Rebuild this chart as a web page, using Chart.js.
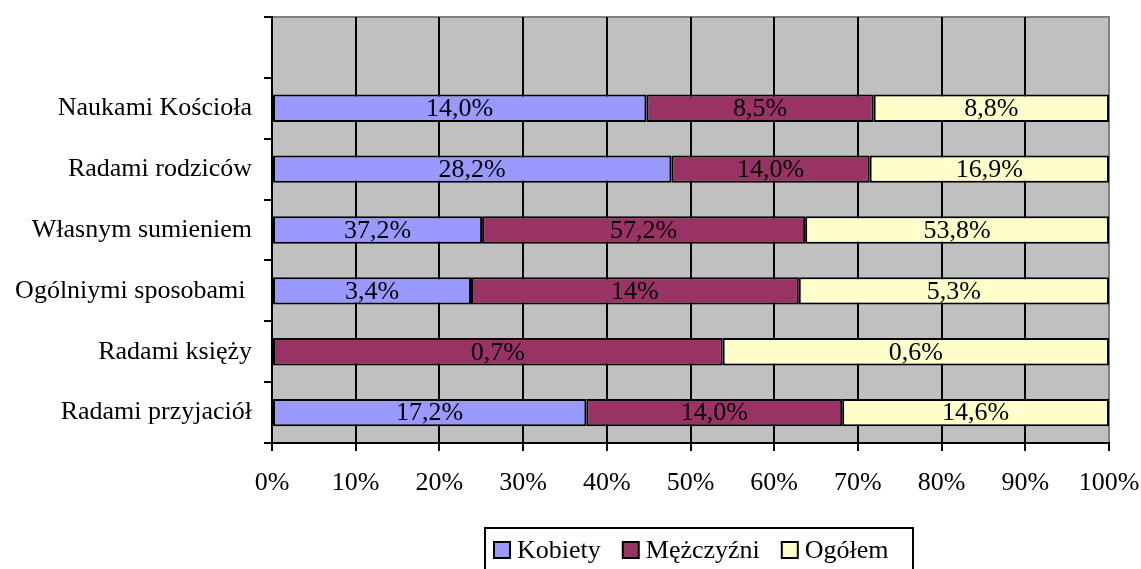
<!DOCTYPE html>
<html>
<head>
<meta charset="utf-8">
<script src="https://cdn.jsdelivr.net/npm/chart.js@4.4.1/dist/chart.umd.min.js"></script>
<style>
  html, body { margin: 0; padding: 0; background: #fff; }
  #wrap { width: 1141px; height: 569px; }
</style>
</head>
<body>
<div id="wrap"><canvas id="chart" width="1141" height="569"></canvas></div>
<script>
// Catégories (de haut en bas), la première ligne est vide
const categories = ['', 'Naukami Kościoła', 'Radami rodziców', 'Własnym sumieniem', 'Ogólniymi sposobami ', 'Radami księży', 'Radami przyjaciół'];

// Valeurs brutes par série (le graphique est empilé à 100%)
const kobiety = [null, 14.0, 28.2, 37.2, 3.4, 0, 17.2];
const mezczyzni = [null, 8.5, 14.0, 57.2, 5.6, 0.7, 14.0];
const ogolem = [null, 8.8, 16.9, 53.8, 5.3, 0.6, 14.6];

// Étiquettes affichées dans les barres
const kobietyLabels = ['', '14,0%', '28,2%', '37,2%', '3,4%', '', '17,2%'];
const mezczyzniLabels = ['', '8,5%', '14,0%', '57,2%', '14%', '0,7%', '14,0%'];
const ogolemLabels = ['', '8,8%', '16,9%', '53,8%', '5,3%', '0,6%', '14,6%'];

const xTicks = [0, 10, 20, 30, 40, 50, 60, 70, 80, 90, 100];

const FONT = '"Liberation Serif", "Times New Roman", serif';
const FSIZE = 26;

// Conversion en parts de 100%
function share(series, i) {
    const total = (kobiety[i] || 0) + (mezczyzni[i] || 0) + (ogolem[i] || 0);
    if (!total || series[i] === null) return null;
    return series[i] / total * 100;
}
const toShares = series => series.map((v, i) => share(series, i));

const bgPlugin = {
    id: 'bg',
    beforeDraw(chart) {
        const { ctx, chartArea: a } = chart;
        ctx.save();
        ctx.fillStyle = '#C0C0C0';
        ctx.fillRect(a.left, a.top, a.right - a.left, a.bottom - a.top);
        ctx.strokeStyle = '#808080';
        ctx.lineWidth = 2;
        ctx.beginPath();
        ctx.moveTo(a.left, a.top);
        ctx.lineTo(a.right, a.top);
        ctx.lineTo(a.right, a.bottom);
        ctx.stroke();
        ctx.restore();
    }
};

// Étiquettes centrées sur chaque segment
const labelPlugin = {
    id: 'segLabels',
    afterDatasetsDraw(chart) {
        const ctx = chart.ctx;
        ctx.save();
        ctx.font = FSIZE + 'px ' + FONT;
        ctx.fillStyle = '#000';
        ctx.textAlign = 'center';
        ctx.textBaseline = 'middle';
        chart.data.datasets.forEach((ds, di) => {
            chart.getDatasetMeta(di).data.forEach((el, i) => {
                const txt = ds.valueLabels[i];
                if (!txt || ds.data[i] === null) return;
                const cx = (el.x + el.base) / 2;
                ctx.fillText(txt, cx, el.y + 1);
            });
        });
        ctx.restore();
    }
};

// Légende encadrée en bas
const legendPlugin = {
    id: 'boxLegend',
    afterDraw(chart) {
        const ctx = chart.ctx;
        ctx.save();
        ctx.font = FSIZE + 'px ' + FONT;
        ctx.textBaseline = 'middle';
        ctx.fillStyle = '#fff';
        ctx.strokeStyle = '#000';
        ctx.lineWidth = 2;
        ctx.fillRect(485, 528, 428, 60);
        ctx.strokeRect(485, 528, 428, 60);
        let x = 494;
        const y = 550;
        chart.data.datasets.forEach(ds => {
            ctx.fillStyle = ds.backgroundColor;
            ctx.fillRect(x, y - 8, 16, 16);
            ctx.strokeStyle = '#000';
            ctx.lineWidth = 2;
            ctx.strokeRect(x, y - 8, 16, 16);
            ctx.fillStyle = '#000';
            ctx.textAlign = 'left';
            ctx.fillText(ds.label, x + 23, y + 1);
            x += 23 + ctx.measureText(ds.label).width + 22;
        });
        ctx.restore();
    }
};

function makeDataset(label, series, labels, color) {
    return {
        label: label,
        data: toShares(series),
        valueLabels: labels,
        backgroundColor: color,
        borderColor: '#000',
        borderWidth: 2,
        borderSkipped: false,
        categoryPercentage: 1,
        barPercentage: 0.45
    };
}

new Chart(document.getElementById('chart'), {
    type: 'bar',
    data: {
        labels: categories,
        datasets: [
            makeDataset('Kobiety', kobiety, kobietyLabels, '#9999FF'),
            makeDataset('Mężczyźni', mezczyzni, mezczyzniLabels, '#993366'),
            makeDataset('Ogółem', ogolem, ogolemLabels, '#FFFFCC')
        ]
    },
    options: {
        indexAxis: 'y',
        responsive: false,
        animation: false,
        layout: { padding: { top: 17, right: 32, left: 0, bottom: 0 } },
        plugins: {
            legend: { display: false },
            tooltip: { enabled: false }
        },
        scales: {
            x: {
                stacked: true,
                min: 0,
                max: 100,
                afterBuildTicks: scale => { scale.ticks = xTicks.map(v => ({ value: v })); },
                afterFit: scale => {
                    scale.height = 126;
                    scale.paddingLeft = 0;
                    scale.paddingRight = 0;
                },
                ticks: {
                    callback: v => v + '%',
                    color: '#000',
                    font: { family: FONT, size: FSIZE },
                    padding: 17,
                    maxRotation: 0
                },
                grid: {
                    color: c => (c.tick && c.tick.value === 100 ? '#808080' : '#000'),
                    tickColor: '#000',
                    lineWidth: 2,
                    tickLength: 8
                },
                border: { color: '#000', width: 2 }
            },
            y: {
                stacked: true,
                afterFit: scale => {
                    scale.width = 272;
                    scale.paddingTop = 0;
                    scale.paddingBottom = 0;
                },
                ticks: {
                    color: '#000',
                    font: { family: FONT, size: FSIZE },
                    padding: 12
                },
                grid: {
                    drawOnChartArea: false,
                    color: '#000',
                    lineWidth: 2,
                    tickLength: 8
                },
                border: { color: '#000', width: 2 }
            }
        }
    },
    plugins: [bgPlugin, labelPlugin, legendPlugin]
});
</script>
</body>
</html>
